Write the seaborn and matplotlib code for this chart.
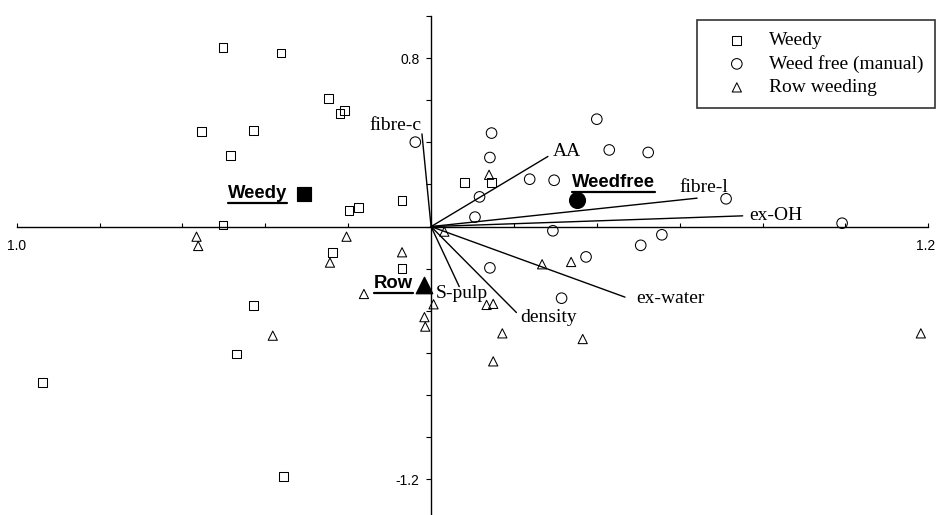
import pandas as pd
import seaborn as sns
import matplotlib.pyplot as plt
from matplotlib.lines import Line2D
from matplotlib.transforms import ScaledTranslation

# Sample scores
weedy_x = [-0.502, -0.362, -0.248, -0.220, -0.208, -0.554, -0.428, -0.484, -0.198, -0.176,
           -0.070, -0.502, 0.080, 0.146, -0.238, -0.070, -0.428, -0.470, -0.938, -0.356]
weedy_y = [0.852, 0.824, 0.610, 0.537, 0.553, 0.453, 0.456, 0.337, 0.078, 0.092,
           0.125, 0.008, 0.211, 0.208, -0.122, -0.198, -0.374, -0.605, -0.741, -1.188]

free_x = [0.400, 0.146, 0.142, 0.430, 0.524, 0.238, 0.297, 0.117, 0.712, 0.106,
          0.992, 0.294, 0.557, 0.506, 0.374, 0.142, 0.315, -0.038]
free_y = [0.510, 0.444, 0.328, 0.364, 0.352, 0.225, 0.220, 0.141, 0.132, 0.045,
          0.016, -0.020, -0.039, -0.089, -0.144, -0.196, -0.340, 0.401]

row_x = [-0.566, -0.562, -0.204, -0.070, -0.244, -0.162, 0.006, -0.016, -0.014, -0.382,
         0.032, 0.268, 0.338, 0.134, 0.150, 0.172, 0.366, 0.150, 1.182, 0.140]
row_y = [-0.048, -0.092, -0.048, -0.122, -0.171, -0.320, -0.369, -0.430, -0.475, -0.518,
         -0.024, -0.179, -0.168, -0.372, -0.367, -0.507, -0.534, -0.640, -0.507, 0.246]

groups = ['Weedy', 'Weed free (manual)', 'Row weeding']

# Treatment centroids
cent_names = ['Weedy', 'Weedfree', 'Row']
cent_x = [-0.306, 0.353, -0.017]
cent_y = [0.155, 0.128, -0.277]

# Variable vectors
vec_names = ['fibre-c', 'AA', 'fibre-l', 'ex-OH', 'ex-water', 'density', 'S-pulp']
vec_x = [-0.022, 0.282, 0.642, 0.752, 0.468, 0.206, 0.068]
vec_y = [0.440, 0.333, 0.135, 0.051, -0.335, -0.408, -0.285]

# Tick labels (x: -1.0 .. 1.2, y: -1.2 .. 1.0, step 0.2)
xtick_labels = ['1.0', '', '', '', '', '', '', '', '', '', '', '1.2']
ytick_labels = ['-1.2', '', '', '', '', '', '', '', '', '', '0.8', '']

sns.set_style('white')
plt.rcParams['font.family'] = ['Liberation Sans', 'DejaVu Sans']
plt.rcParams['text.color'] = 'black'
plt.rcParams['xtick.color'] = 'black'
plt.rcParams['ytick.color'] = 'black'

fig = plt.figure(figsize=(9.36, 5.15), dpi=100)
ax = fig.add_axes([0.01784, -0.01243, 0.97393, 0.98136])

pts = pd.DataFrame({
    'x': weedy_x + free_x + row_x,
    'y': weedy_y + free_y + row_y,
    'group': [groups[0]] * len(weedy_x) + [groups[1]] * len(free_x) + [groups[2]] * len(row_x),
})
marks = {groups[0]: ('s', 40), groups[1]: ('o', 58), groups[2]: ('^', 44)}
for g in groups:
    m, s = marks[g]
    sns.scatterplot(data=pts[pts['group'] == g], x='x', y='y', marker=m, s=s,
                    fc='none', ec='black', linewidth=0.75, label=g, ax=ax, zorder=3)

# vectors
serif = ['Liberation Serif', 'DejaVu Serif']
for vx, vy in zip(vec_x, vec_y):
    ax.plot([0, vx], [0, vy], color='black', lw=1.0, zorder=2)
lab_pos = {
    'fibre-c': (-0.022, 0.459, 'right'),
    'AA': (0.295, 0.335, 'left'),
    'fibre-l': (0.600, 0.166, 'left'),
    'ex-OH': (0.768, 0.032, 'left'),
    'ex-water': (0.494, -0.361, 'left'),
    'density': (0.216, -0.451, 'left'),
    'S-pulp': (0.012, -0.338, 'left'),
}
for n in vec_names:
    lx, ly, ha = lab_pos[n]
    ax.text(lx, ly, n, ha=ha, va='baseline', fontsize=14, family=serif, zorder=4)

# centroids
cm = {'Weedy': ('s', 110), 'Weedfree': ('o', 130), 'Row': ('^', 140)}
for n, cx, cy in zip(cent_names, cent_x, cent_y):
    sns.scatterplot(x=[cx], y=[cy], marker=cm[n][0], s=cm[n][1], color='black',
                    ec='black', ax=ax, zorder=5, legend=False)

bold_pos = {'Weedy': (-0.348, 0.136, 'right'),
            'Weedfree': (0.341, 0.187, 'left'),
            'Row': (-0.043, -0.293, 'right')}
bold_texts = []
for n in cent_names:
    bx, by, ha = bold_pos[n]
    bold_texts.append(ax.text(bx, by, n, ha=ha, va='baseline', fontsize=13.3,
                              fontweight='bold', color='black', zorder=6))

# axes through the origin
ax.set_xlim(-1.0, 1.2)
ax.set_ylim(-1.4, 1.0)
ax.spines['left'].set_position(('data', 0))
ax.spines['bottom'].set_position(('data', 0))
ax.spines['top'].set_visible(False)
ax.spines['right'].set_visible(False)
for sp in ['left', 'bottom']:
    ax.spines[sp].set_color('black')
    ax.spines[sp].set_linewidth(1.0)
ax.set_xticks([-1.0 + 0.2 * i for i in range(12)], xtick_labels)
ax.set_yticks([-1.2 + 0.2 * i for i in range(12)], ytick_labels)
ax.tick_params(axis='x', direction='in', length=3, width=0.8, pad=9, labelsize=10, bottom=True)
ax.tick_params(axis='y', direction='out', length=3.5, width=0.8, pad=5, labelsize=10, left=True)
ax.set_xlabel('')
ax.set_ylabel('')
# keep the last x label inside the picture
last = ax.get_xticklabels()[-1]
last.set_horizontalalignment('right')
last.set_transform(last.get_transform() + ScaledTranslation(7 / 100, 0, fig.dpi_scale_trans))

leg = ax.legend(loc='upper right', bbox_to_anchor=(0.999, 1 - 20 / 515),
                bbox_transform=fig.transFigure, frameon=True, fancybox=False,
                edgecolor='black', scatterpoints=1, handlelength=2.9,
                handletextpad=0.2, labelspacing=0.3, borderpad=0.6,
                borderaxespad=0, prop={'family': serif, 'size': 14})
leg.get_frame().set_linewidth(1.2)
leg.set_zorder(10)

# underline the centroid labels
fig.canvas.draw()
r = fig.canvas.get_renderer()
inv = fig.transFigure.inverted()
for t in bold_texts:
    bb = t.get_window_extent(r)
    (x0, y0), (x1, _) = inv.transform([(bb.x0, bb.y0 - 1), (bb.x1, bb.y0 - 1)])
    fig.add_artist(Line2D([x0, x1], [y0, y0], color='black', lw=1.6))

fig.savefig('out.png', dpi=100)
